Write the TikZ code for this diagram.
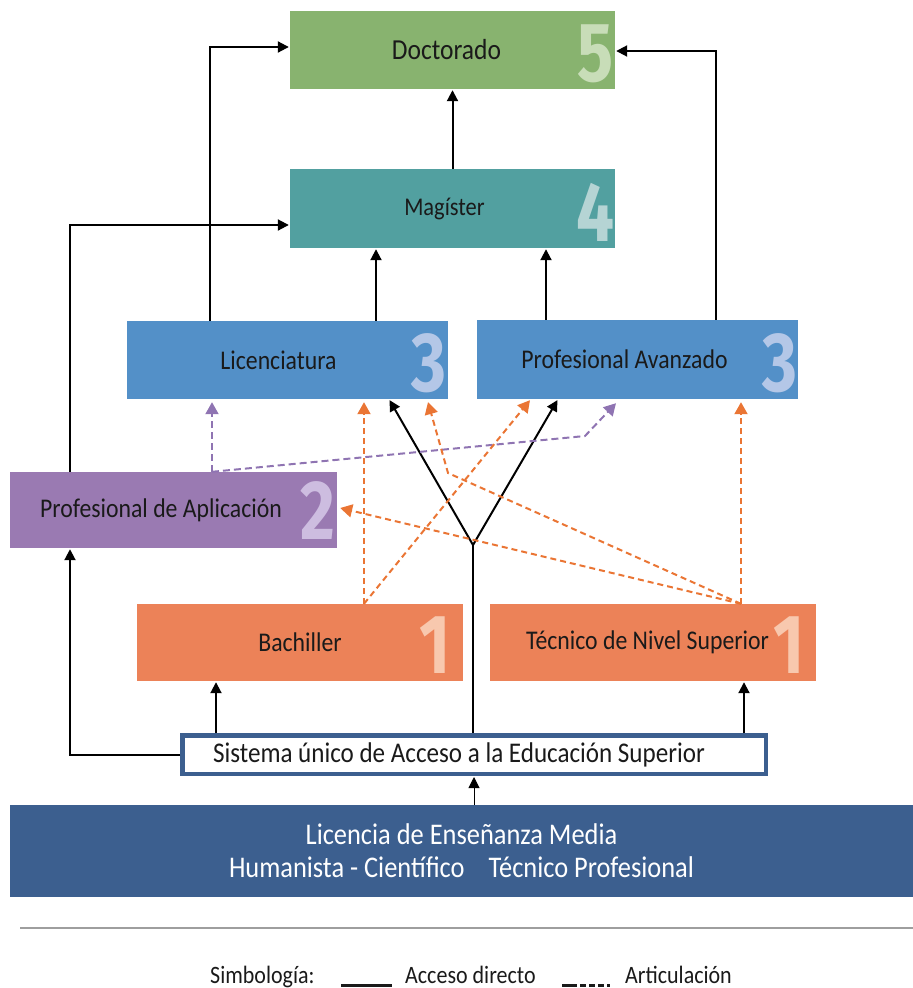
\documentclass[tikz,border=0pt]{standalone}
\usepackage{fontspec}
\setmainfont{Carlito}[FakeStretch=0.88]
\newfontfamily\numfont{Fira Sans}[FakeStretch=0.8]
\usetikzlibrary{arrows.meta}
\definecolor{cgreen}{HTML}{88B36F}
\definecolor{cgreenL}{HTML}{C8DDB8}
\definecolor{cteal}{HTML}{52A0A0}
\definecolor{ctealL}{HTML}{B5D4D4}
\definecolor{cblue}{HTML}{5390C8}
\definecolor{cblueL}{HTML}{B4C7E7}
\definecolor{cpurple}{HTML}{9A7AB2}
\definecolor{cpurpleL}{HTML}{CDBDE0}
\definecolor{corange}{HTML}{EC8258}
\definecolor{corangeL}{HTML}{F8C8AE}
\definecolor{cdark}{HTML}{3C5F8F}
\definecolor{codash}{HTML}{EA7534}
\definecolor{cpdash}{HTML}{8F74B2}
\definecolor{ctext}{HTML}{1A1A1A}
\tikzset{
  box/.style={rectangle, inner sep=0pt, text=ctext, font=\fontsize{27}{30}\selectfont},
  num/.style={anchor=base east, inner sep=0pt, font=\numfont\bfseries\fontsize{84}{84}\selectfont},
  arr/.style={-{Triangle[length=11pt,width=11pt]}, line width=2pt, black, shorten >=1pt},
  plainline/.style={line width=2pt, black},
  odash/.style={-{Triangle[length=12pt,width=13pt]}, line width=2pt, codash, dash pattern=on 6pt off 4pt},
  pdash/.style={-{Triangle[length=12pt,width=13pt]}, line width=2pt, cpdash, dash pattern=on 7pt off 4pt},
  legend/.style={anchor=base west, inner sep=0pt, text=ctext, font=\fontsize{25}{28}\selectfont}
}
\begin{document}
\begin{tikzpicture}[x=1pt,y=-1pt]
\useasboundingbox (0,0) rectangle (913,988);

% boxes
\node[box, fill=cgreen, minimum width=325, minimum height=78, font=\fontsize{29}{32}\selectfont] (doc) at (452.5,50) {Doctorado\hspace*{12pt}};
\node[num, text=cgreenL] (n5) at ([xshift=-1pt,yshift=8pt]doc.south east) {5};

\node[box, fill=cteal, minimum width=325, minimum height=79, font=\fontsize{25.5}{28}\selectfont] (mag) at (452.5,208.5) {Magíster\hspace*{16pt}};
\node[num, text=ctealL] (n4) at ([xshift=-1pt,yshift=7pt]mag.south east) {4};

\node[box, fill=cblue, minimum width=321, minimum height=78] (lic) at (287.5,360) {Licenciatura\hspace*{18pt}};
\node[num, text=cblueL] (n3a) at ([xshift=-2pt,yshift=8pt]lic.south east) {3};

\node[box, fill=cblue, minimum width=321, minimum height=79] (pav) at (637.5,359.5) {Profesional Avanzado\hspace*{26pt}};
\node[num, text=cblueL] (n3b) at ([xshift=-1pt,yshift=8pt]pav.south east) {3};

\node[box, fill=cpurple, minimum width=327, minimum height=76] (pap) at (173.5,510) {Profesional de Aplicación\hspace*{25pt}};
\node[num, text=cpurpleL] (n2) at ([xshift=-2pt,yshift=9pt]pap.south east) {2};

\node[box, fill=corange, minimum width=326, minimum height=77] (bac) at (300,642.5) {Bachiller};
\node[num, text=corangeL] (n1a) at ([xshift=-12pt,yshift=8pt]bac.south east) {1};

\node[box, fill=corange, minimum width=326, minimum height=77] (tec) at (653,642.5) {Técnico de Nivel Superior\hspace*{11pt}};
\node[num, text=corangeL] (n1b) at ([xshift=-11pt,yshift=8pt]tec.south east) {1};

\node[box, draw=cdark, line width=4.5pt, fill=white, minimum width=583.5, minimum height=38.5, font=\fontsize{28.5}{31}\selectfont] (sis) at (474,754.5) {Sistema único de Acceso a la Educación Superior\hspace*{30pt}};

\node[box, fill=cdark, minimum width=903, minimum height=92, text=white, align=center, font=\fontsize{30}{33}\selectfont] (lem) at (461.5,851) {Licencia de Enseñanza Media\\Humanista - Científico\hspace{0.8em}Técnico Profesional};

% separator
\draw[line width=1.5pt, black!38] (20,928) -- (913,928);

% legend
\node[legend] (simb) at (210,983) {Simbología:};
\node[legend] (acc) at (405,983) {Acceso directo};
\node[legend] (art) at (625,983) {Articulación};
\draw[line width=3pt, ctext] (341,985) -- (392,985);
\draw[line width=3pt, ctext, dash pattern=on 15pt off 3pt on 6pt off 3pt on 6pt off 3pt on 6pt off 3pt on 6pt] (562,985) -- (610,985);

% direct access (solid)
\draw[arr] (mag.north) -- (doc.south);
\draw[arr] ([xshift=-77.5pt]lic.north) |- ([yshift=3pt]doc.west);
\draw[arr] ([xshift=78.5pt]pav.north) |- ([yshift=-1pt]doc.east);
\draw[arr] ([xshift=-103.5pt]pap.north) |- ([yshift=-16.5pt]mag.west);
\draw[arr] ([xshift=88.5pt]lic.north) -- ([xshift=88.5pt]lic.north |- mag.south);
\draw[arr] ([xshift=-91.5pt]pav.north) -- ([xshift=-91.5pt]pav.north |- mag.south);
\coordinate (fork) at (473,545);
\draw[plainline] (sis.north -| fork) -- (fork);
\draw[arr] (fork) -- ([xshift=101.5pt]lic.south);
\draw[arr] (fork) -- ([xshift=-79.5pt]pav.south);
\draw[arr] ([xshift=-84pt]bac.south |- sis.north) -- ([xshift=-84pt]bac.south);
\draw[arr] ([xshift=91pt]tec.south |- sis.north) -- ([xshift=91pt]tec.south);
\draw[arr] (sis.west) -| ([xshift=-103.5pt]pap.south);
\draw[arr, line width=1pt] (lem.north -| sis.south) -- (sis.south);

% articulation (dashed)
\coordinate (pbend) at (585,436);
\coordinate (obend) at (448,473);
\draw[pdash] ([xshift=38.5pt]pap.north) -- ([xshift=-75.5pt,yshift=-3pt]lic.south);
\draw[pdash] ([xshift=38.5pt]pap.north) -- (pbend) -- ([xshift=-21.5pt,yshift=-4pt]pav.south);
\draw[odash] ([xshift=64pt]bac.north) -- ([xshift=76.5pt,yshift=-3pt]lic.south);
\draw[odash] ([xshift=64pt]bac.north) -- ([xshift=-107.5pt,yshift=-1pt]pav.south);
\draw[odash] ([xshift=88pt]tec.north) -- ([xshift=3pt,yshift=2pt]pap.east);
\draw[odash] ([xshift=88pt]tec.north) -- (obend) -- ([xshift=140.5pt,yshift=-3pt]lic.south);
\draw[odash] ([xshift=88pt]tec.north) -- ([xshift=103.5pt,yshift=-3pt]pav.south);
\end{tikzpicture}
\end{document}
